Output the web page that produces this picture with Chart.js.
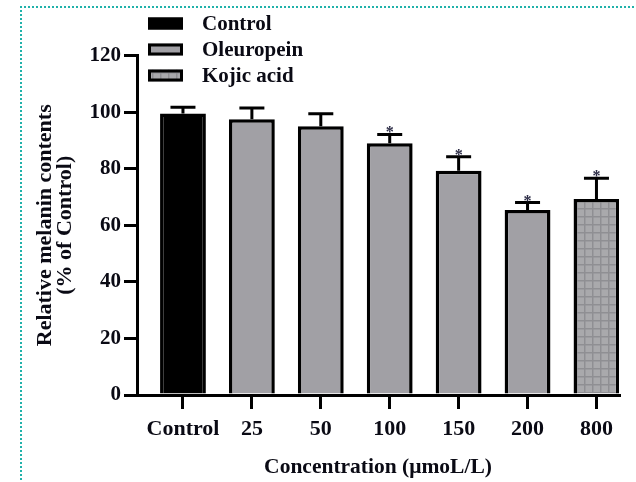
<!DOCTYPE html>
<html lang="en">
  <head>
    <meta charset="UTF-8" />
    <title>Relative melanin contents</title>
    <script src="https://cdn.jsdelivr.net/npm/chart.js@4.4.1/dist/chart.umd.min.js"></script>
    <style>
      html, body { margin: 0; padding: 0; background: #fff; }
      #wrap { position: relative; width: 636px; height: 482px; overflow: hidden; }
      #frame {
        position: absolute; left: 20px; top: 6px; width: 700px; height: 600px;
        border-top: 2px dotted lightseagreen; border-left: 2px dotted lightseagreen;
      }
      canvas { position: absolute; left: 0; top: 0; }
    </style>
  </head>
  <body>
    <div id="wrap">
      <div id="frame"></div>
      <canvas id="chart" width="636" height="482"></canvas>
    </div>

    <script>
      // data
      const categories = ["Control", "25", "50", "100", "150", "200", "800"];
      const means = [99.5, 97.5, 95.0, 89.0, 79.3, 65.4, 69.3];
      const errors = [2.2, 3.9, 4.4, 3.1, 4.9, 2.6, 7.3];
      const significant = [false, false, false, true, true, true, true];
      const groupOf = ["Control", "Oleuropein", "Oleuropein", "Oleuropein", "Oleuropein", "Oleuropein", "Kojic acid"];
      const seriesNames = ["Control", "Oleuropein", "Kojic acid"];
      const yTicks = [0, 20, 40, 60, 80, 100, 120];

      const FONT = "'Liberation Serif', 'Times New Roman', serif";
      const INK = "#0a0a14";
      const X_MIN = -0.667, X_MAX = 6.327;

      // grey grid pattern used for kojic acid
      function gridPattern() {
        const c = document.createElement("canvas");
        c.width = 8; c.height = 8;
        const g = c.getContext("2d");
        g.fillStyle = "#a9a9ac";
        g.fillRect(0, 0, 8, 8);
        g.fillStyle = "#8f8f93";
        g.fillRect(0, 0, 8, 1.5);
        g.fillRect(0, 0, 1.5, 8);
        return g.createPattern(c, "repeat");
      }

      const fills = {
        "Control": "#000000",
        "Oleuropein": "#a1a0a5",
        "Kojic acid": gridPattern(),
      };

      const datasets = seriesNames.map((name) => ({
        label: name,
        data: categories
          .map((c, i) => ({ x: i, y: means[i], err: errors[i], sig: significant[i], g: groupOf[i] }))
          .filter((p) => p.g === name),
        backgroundColor: fills[name],
        borderColor: "#000",
        borderWidth: 3.5,
        borderSkipped: "start",
        grouped: false,
        barPercentage: 0.665,
        categoryPercentage: 1,
      }));

      // error bars + asterisks
      const errorBars = {
        id: "errorBars",
        afterDatasetsDraw(chart) {
          const ctx = chart.ctx;
          const y = chart.scales.y;
          ctx.save();
          ctx.strokeStyle = "#000";
          ctx.lineWidth = 3;
          chart.data.datasets.forEach((ds, di) => {
            const meta = chart.getDatasetMeta(di);
            meta.data.forEach((bar, j) => {
              const p = ds.data[j];
              const top = y.getPixelForValue(p.y);
              const cap = y.getPixelForValue(p.y + p.err);
              ctx.beginPath();
              ctx.moveTo(bar.x, top);
              ctx.lineTo(bar.x, cap);
              ctx.moveTo(bar.x - 12.5, cap);
              ctx.lineTo(bar.x + 12.5, cap);
              ctx.stroke();
              if (p.sig) {
                ctx.fillStyle = "#2b2b45";
                ctx.font = "bold 16px " + FONT;
                ctx.textAlign = "center";
                ctx.textBaseline = "alphabetic";
                ctx.fillText("*", bar.x, cap + 3);
              }
            });
          });
          ctx.restore();
        },
      };

      // legend in the top-left corner, over the plot
      const cornerLegend = {
        id: "cornerLegend",
        afterDraw(chart) {
          const ctx = chart.ctx;
          ctx.save();
          chart.data.datasets.forEach((ds, i) => {
            const cy = 23.5 + i * 26;
            ctx.fillStyle = ds.backgroundColor;
            ctx.fillRect(148, cy - 6, 35, 12);
            ctx.strokeStyle = "#000";
            ctx.lineWidth = 3;
            ctx.strokeRect(149.5, cy - 4.5, 32, 9);
            ctx.fillStyle = INK;
            ctx.font = "bold 21px " + FONT;
            ctx.textAlign = "left";
            ctx.textBaseline = "middle";
            ctx.fillText(ds.label, 202, cy + 1);
          });
          ctx.restore();
        },
      };

      new Chart(document.getElementById("chart"), {
        type: "bar",
        data: { datasets },
        plugins: [errorBars, cornerLegend],
        options: {
          responsive: false,
          animation: false,
          layout: { padding: { top: 55.5, right: 17, left: 35, bottom: 4 } },
          plugins: { legend: { display: false }, tooltip: { enabled: false } },
          scales: {
            x: {
              type: "linear",
              min: X_MIN,
              max: X_MAX,
              bounds: "data",
              offset: false,
              afterBuildTicks: (s) => {
                s.ticks = categories.map((c, i) => ({ value: i }));
                s.min = X_MIN;
                s.max = X_MAX;
              },
              afterFit: (s) => { s.height = 83; },
              border: { display: true, color: "#000", width: 3 },
              grid: { offset: false, drawOnChartArea: false, drawTicks: true, tickLength: 14, color: "#000", lineWidth: 3 },
              ticks: {
                autoSkip: false,
                maxRotation: 0,
                padding: 7,
                color: INK,
                font: { family: FONT, size: 22, weight: "bold" },
                callback: (v) => categories[v],
              },
              title: {
                display: true,
                text: "Concentration (\u03bcmoL/L)",
                color: INK,
                padding: 0,
                font: { family: FONT, size: 21.5, weight: "bold", lineHeight: 1 },
              },
            },
            y: {
              min: 0,
              max: 120,
              afterBuildTicks: (s) => { s.ticks = yTicks.map((v) => ({ value: v })); },
              afterFit: (s) => { s.width = 102; },
              border: { display: true, color: "#000", width: 3 },
              grid: { drawOnChartArea: false, drawTicks: true, tickLength: 13, color: "#000", lineWidth: 3 },
              ticks: {
                padding: 3,
                color: INK,
                font: { family: FONT, size: 21, weight: "bold" },
              },
              title: {
                display: true,
                text: ["Relative melanin contents", "(% of Control)"],
                color: INK,
                padding: 0,
                font: { family: FONT, size: 22, weight: "bold", lineHeight: 0.92 },
              },
            },
          },
        },
      });
    </script>
  </body>
</html>
